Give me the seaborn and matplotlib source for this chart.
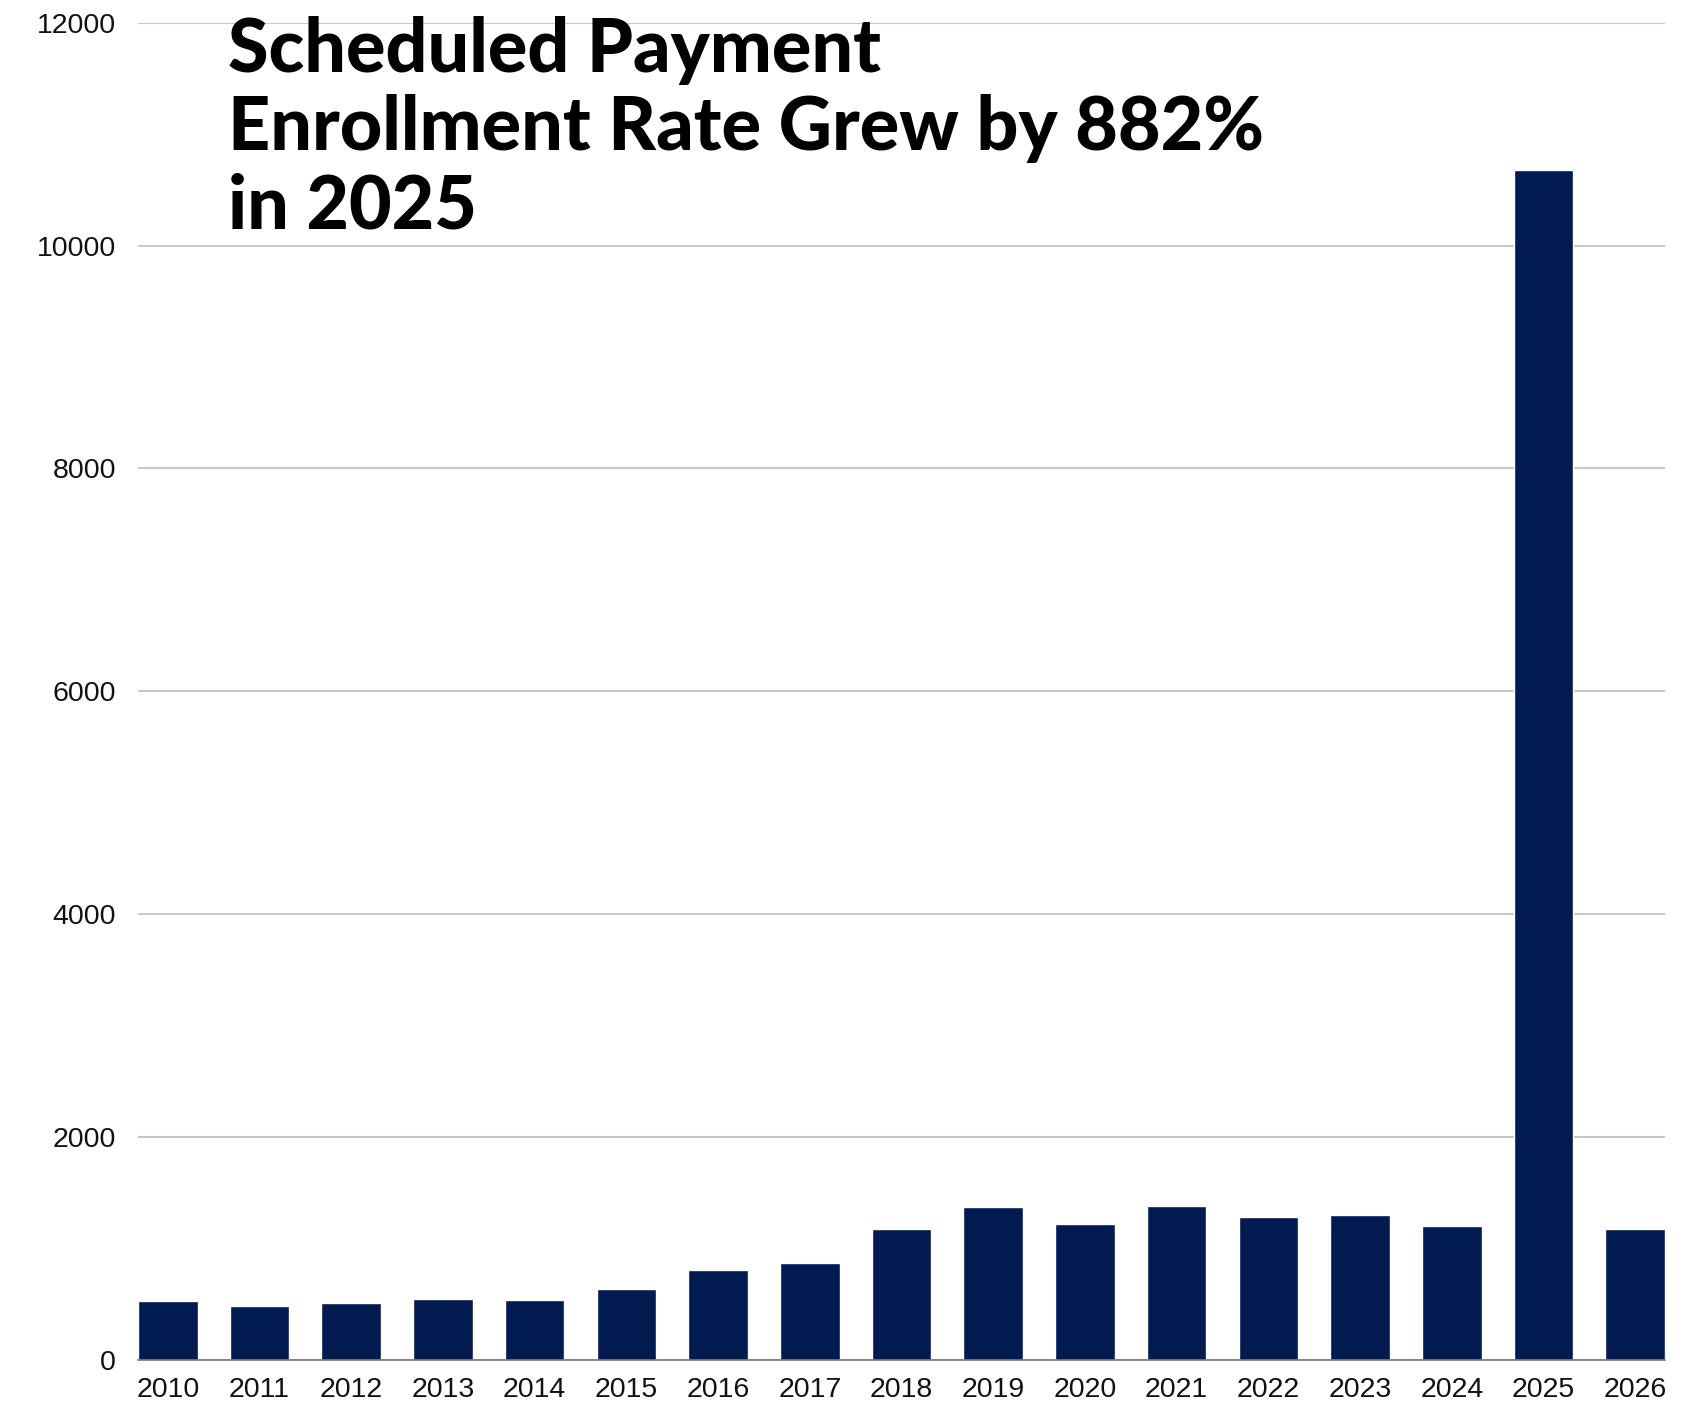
import matplotlib
matplotlib.use("Agg")
import matplotlib.pyplot as plt
import seaborn as sns
import pandas as pd

years = ["2010", "2011", "2012", "2013", "2014", "2015", "2016", "2017", "2018",
         "2019", "2020", "2021", "2022", "2023", "2024", "2025", "2026"]
values = [532, 487, 508, 547, 535, 634, 804, 873, 1175,
          1369, 1220, 1381, 1280, 1303, 1205, 10680, 1178]
y_ticks = [0, 2000, 4000, 6000, 8000, 10000, 12000]
title_lines = ["Scheduled Payment", "Enrollment Rate Grew by 882%", "in 2025"]

df = pd.DataFrame({"year": years, "value": values})

sns.set_style("white")
plt.rcParams["font.family"] = ["Liberation Sans", "DejaVu Sans"]

fig = plt.figure(figsize=(16.9, 14.16), dpi=100)
ax = fig.add_axes([138/1690, 1 - 1360/1416, (1665-138)/1690, (1360-22.6)/1416])

bw = 0.65
sns.barplot(data=df, x="year", y="value", color="#011A4F", saturation=1,
            width=bw, ax=ax, zorder=3)

ax.set_xlim(-bw/2, len(years) - 1 + bw/2)
ax.set_ylim(0, 12000)
ax.set_yticks(y_ticks)
ax.set_yticklabels([str(t) for t in y_ticks])
ax.yaxis.grid(True, color="#c8c8c8", linewidth=1.5, zorder=0)
ax.xaxis.grid(False)
for s in ["top", "right", "left"]:
    ax.spines[s].set_visible(False)
ax.spines["bottom"].set_color("#777777")
ax.spines["bottom"].set_linewidth(1.2)
ax.spines["bottom"].set_zorder(4)
ax.tick_params(axis="both", length=0, labelsize=20.5, colors="#111111")
ax.tick_params(axis="y", pad=16)
ax.tick_params(axis="x", pad=12)
ax.set_xlabel("")
ax.set_ylabel("")

baselines = [72, 150, 228.5]
for line, yb in zip(title_lines, baselines):
    fig.text(228/1690, 1 - yb/1416, line, ha="left", va="baseline",
             fontsize=53, fontweight="black", family=["Lato", "DejaVu Sans"],
             color="#000000")

fig.savefig("out.png", dpi=100, facecolor="white")
